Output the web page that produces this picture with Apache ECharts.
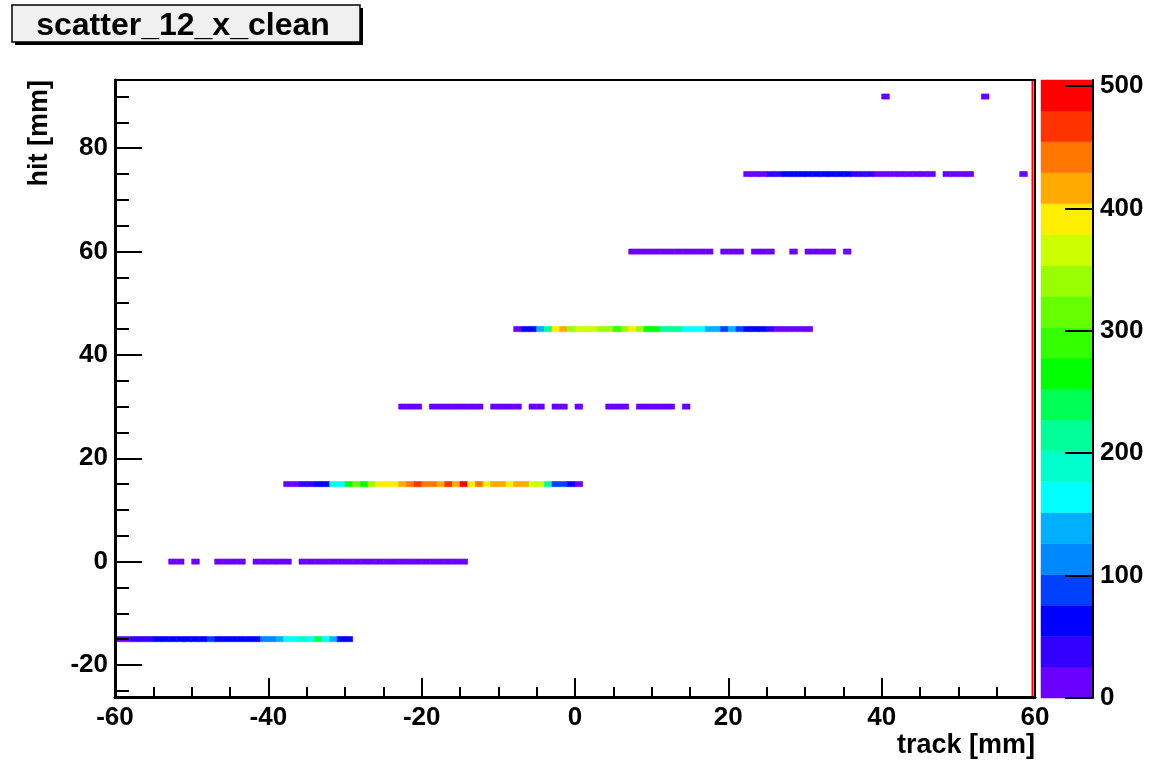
<!DOCTYPE html>
<html><head><meta charset="utf-8">
<script src="https://cdn.jsdelivr.net/npm/echarts@6/dist/echarts.min.js"></script>
<style>html,body{margin:0;padding:0;background:#fff;}#main{width:1151px;height:761px;}</style>
</head><body><div id="main"></div>
<script>
// ---------------- data ----------------
const X_TICKS = [-60, -40, -20, 0, 20, 40, 60];
const Y_TICKS = [-20, 0, 20, 40, 60, 80];
const Z_TICKS = [0, 100, 200, 300, 400, 500];
const X_RANGE = [-60, 60];
const Y_RANGE = [-26.2, 93.2];
const Z_MAX = 505;
const BIN_W = 1;     // mm, histogram bin width in x
const BIN_H = 1;     // mm, histogram bin height in y

const rowY     = [-15, 0, 15, 30, 45, 60, 75, 90];
const rowStart = [-60, -53, -38, -23, -8, 7, 22, 40];

const rowM15 = [15,18,35,40,45,60,65,70,65,60,70,65,85,65,60,55,65,70,65,105,115,140,165,170,190,165,240,165,140,70,65];
const row0   = [12,10,0,8,0,0,10,12,9,11,0,10,13,11,12,10,0,12,14,11,13,15,12,10,14,13,11,12,15,13,12,10,14,11,13,12,10,12,9];
const row15  = [15,18,40,45,60,65,165,170,265,315,265,340,390,395,392,415,440,465,440,445,418,468,412,500,395,442,390,420,415,392,418,422,365,360,215,88,85,65,20];
const row30  = [10,12,11,0,12,10,13,11,12,10,11,0,9,11,10,12,0,10,8,0,9,11,0,8,0,0,0,10,12,9,0,11,10,12,9,11,0,8];
const row45  = [15,65,62,140,215,390,418,340,365,368,362,340,335,290,342,388,338,265,262,215,212,210,165,168,162,140,138,100,135,88,65,62,60,40,20,15,12,10,8];
const row60  = [10,12,11,13,10,12,11,9,12,10,11,0,10,9,11,0,10,12,9,0,0,8,0,10,11,9,12,0,8];
const row75  = [15,20,22,35,45,55,60,65,70,65,60,65,70,60,40,35,30,20,18,15,12,15,10,12,8,0,10,9,11,8,0,0,0,0,0,0,8];
const row90  = [8,0,0,0,0,0,0,0,0,0,0,0,0,8];
const rowValues = [rowM15, row0, row15, row30, row45, row60, row75, row90];

const palette = ['#6a00ff','#3300ff','#0000ff','#0040ff','#0088ff','#00b0ff','#00ffff','#00ffcc',
                 '#00ff99','#00ff55','#00ff00','#33ff00','#66ff00','#99ff00','#ccff00','#ffee00',
                 '#ffaa00','#ff7700','#ff3300','#ff0000'];

// ---------------- build ----------------
const cells = [];
rowValues.forEach((vals, r) => {
  vals.forEach((v, i) => { if (v > 0) cells.push([rowStart[r] + i * BIN_W, rowY[r], v]); });
});
const bands = palette.map((c, i) => [i * Z_MAX / palette.length, (i + 1) * Z_MAX / palette.length, i]);

function colorOf(v) {
  let idx = Math.floor(v / (Z_MAX / palette.length));
  if (idx < 0) idx = 0; if (idx >= palette.length) idx = palette.length - 1;
  return palette[idx];
}
const yMinor = [];
for (let v = Math.ceil(Y_RANGE[0] / 5) * 5; v <= Y_RANGE[1]; v += 5) if (v % 20 !== 0) yMinor.push(v);

const FONT = '"Liberation Sans", Arial, Helvetica, sans-serif';
const lab = { color: '#000', fontSize: 26, fontWeight: 'bold', fontFamily: FONT };

const chart = echarts.init(document.getElementById('main'), null, { renderer: 'canvas' });
chart.setOption({
  animation: false,
  backgroundColor: '#fff',
  grid: [
    { left: 115, top: 80, width: 920, height: 617, show: true, borderColor: '#000', borderWidth: 2, backgroundColor: 'transparent' },
    { left: 1041, top: 80, width: 52, height: 618, show: false }
  ],
  xAxis: [
    { type: 'value', gridIndex: 0, min: X_RANGE[0], max: X_RANGE[1], interval: 20, position: 'bottom', z: 10,
      axisLine: { show: true, onZero: false, lineStyle: { color: '#000', width: 3 } },
      axisTick: { show: true, inside: true, length: 19, lineStyle: { color: '#000', width: 2 } },
      minorTick: { show: true, splitNumber: 4, length: 10, lineStyle: { color: '#000', width: 2 } },
      axisLabel: Object.assign({ margin: 8 }, lab),
      splitLine: { show: false }, minorSplitLine: { show: false } },
    { type: 'value', gridIndex: 1, min: 0, max: 1, show: false }
  ],
  yAxis: [
    { type: 'value', gridIndex: 0, min: Y_RANGE[0], max: Y_RANGE[1], position: 'left', z: 10,
      axisLine: { show: true, onZero: false, lineStyle: { color: '#000', width: 3 } },
      axisTick: { show: true, inside: true, length: 27, customValues: Y_TICKS, lineStyle: { color: '#000', width: 2 } },
      axisLabel: Object.assign({ margin: 7, customValues: Y_TICKS }, lab),
      splitLine: { show: false } },
    { type: 'value', gridIndex: 0, min: Y_RANGE[0], max: Y_RANGE[1], position: 'left', z: 10,
      axisLine: { show: false, onZero: false },
      axisTick: { show: true, inside: true, length: 14, customValues: yMinor, lineStyle: { color: '#000', width: 2 } },
      axisLabel: { show: false }, splitLine: { show: false } },
    { type: 'value', gridIndex: 1, min: 0, max: Z_MAX, position: 'right', z: 10,
      axisLine: { show: true, onZero: false, lineStyle: { color: '#000', width: 2 } },
      axisTick: { show: true, inside: true, length: 28, customValues: Z_TICKS, lineStyle: { color: '#000', width: 2 } },
      axisLabel: Object.assign({ margin: 7, customValues: Z_TICKS }, lab),
      splitLine: { show: false } }
  ],
  series: [
    { type: 'custom', xAxisIndex: 0, yAxisIndex: 0, data: cells, clip: true, z: 2,
      renderItem: function (params, api) {
        const x = api.value(0), y = api.value(1), v = api.value(2);
        const p0 = api.coord([x, y + BIN_H / 2]);
        const p1 = api.coord([x + BIN_W, y - BIN_H / 2]);
        const c = colorOf(v);
        return { type: 'rect', shape: { x: p0[0], y: p0[1], width: p1[0] - p0[0], height: p1[1] - p0[1] },
                 style: { fill: c, stroke: c, lineWidth: 0.6 } };
      } },
    { type: 'custom', xAxisIndex: 1, yAxisIndex: 2, data: bands, z: 2,
      renderItem: function (params, api) {
        const lo = api.value(0), hi = api.value(1), i = api.value(2);
        const p0 = api.coord([0, hi]);
        const p1 = api.coord([1, lo]);
        return { type: 'rect', shape: { x: p0[0], y: p0[1], width: p1[0] - p0[0], height: p1[1] - p0[1] },
                 style: { fill: palette[i], stroke: palette[i], lineWidth: 0.5 } };
      } }
  ],
  graphic: [
    { type: 'rect', z: 20, shape: { x: 15, y: 8, width: 348, height: 37 }, style: { fill: '#000' } },
    { type: 'rect', z: 21, shape: { x: 12, y: 5, width: 348, height: 37 }, style: { fill: '#f0f0f0', stroke: '#000', lineWidth: 1.5 } },
    { type: 'text', z: 22, x: 183, y: 26, style: { text: 'scatter_12_x_clean', font: 'bold 32px ' + FONT, fill: '#000', align: 'center', verticalAlign: 'middle' } },
    { type: 'text', z: 22, x: 1035, y: 746, style: { text: 'track [mm]', font: 'bold 27px ' + FONT, fill: '#000', align: 'right', verticalAlign: 'middle' } },
    { type: 'text', z: 22, x: 40, y: 80, rotation: Math.PI / 2, style: { text: 'hit [mm]', font: 'bold 27px ' + FONT, fill: '#000', align: 'right', verticalAlign: 'middle' } },
    { type: 'rect', z: 22, shape: { x: 1031.5, y: 81, width: 2, height: 615 }, style: { fill: '#ff0000' } }
  ]
});
</script>
</body></html>
